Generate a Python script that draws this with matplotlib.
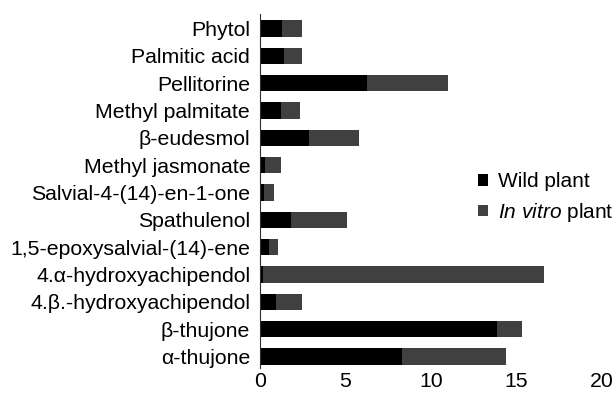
import numpy as np
import matplotlib.pyplot as plt

plt.rcParams['font.family'] = ['Liberation Sans', 'DejaVu Sans']
plt.rcParams['mathtext.fontset'] = 'custom'
plt.rcParams['mathtext.rm'] = 'Liberation Sans'
plt.rcParams['mathtext.it'] = 'Liberation Sans:italic'

# compounds, top to bottom
compounds = ["Phytol", "Palmitic acid", "Pellitorine", "Methyl palmitate",
             "β-eudesmol", "Methyl jasmonate", "Salvial-4-(14)-en-1-one",
             "Spathulenol", "1,5-epoxysalvial-(14)-ene", "4.α-hydroxyachipendol",
             "4.β.-hydroxyachipendol", "β-thujone", "α-thujone"]
wild = [1.27, 1.42, 6.24, 1.21, 2.87, 0.29, 0.25, 1.79, 0.51, 0.18, 0.92, 13.86, 8.32]
invitro = [1.20, 1.05, 4.76, 1.15, 2.94, 0.94, 0.59, 3.28, 0.54, 16.42, 1.52, 1.48, 6.05]
xticks = [0, 5, 10, 15, 20]

fig = plt.figure(figsize=(6.16, 3.94), dpi=100)
ax = fig.add_axes([0.422, 0.066, 0.555, 0.898])

pos = np.arange(len(compounds))
ax.barh(pos, wild, height=0.6, color='black', label='Wild plant')
ax.barh(pos, invitro, left=wild, height=0.6, color='#404040',
        label=r'$\it{In\ vitro}$ plant')

ax.set_xlim(0, 20)
ax.set_ylim(12.42, -0.52)
ax.set_xticks(xticks)
ax.set_yticks(pos)
ax.set_yticklabels(compounds)
ax.tick_params(axis='both', length=0, labelsize=15.3)
ax.tick_params(axis='y', pad=7)
ax.tick_params(axis='x', pad=3)
for s in ['top', 'right', 'bottom']:
    ax.spines[s].set_visible(False)
ax.spines['left'].set_color('#303030')

fig.legend(loc='center left', bbox_to_anchor=(0.763, 0.497), frameon=False,
           fontsize=15, handlelength=0.45, handleheight=0.45,
           handletextpad=0.5, labelspacing=0.45, borderaxespad=0)

fig.savefig('out.png', dpi=100)
